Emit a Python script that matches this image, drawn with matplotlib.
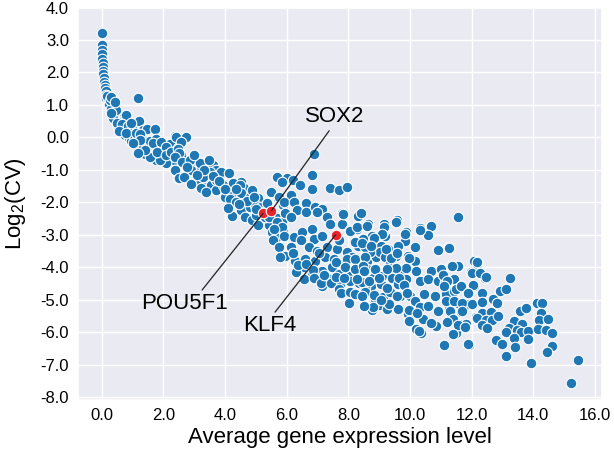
import numpy as np
import matplotlib
matplotlib.use('Agg')
import matplotlib.pyplot as plt
import seaborn as sns

# average expression (x) and log2 CV (y)
expr = [
    0.00, 0.02, 0.02, 0.01, 0.02, 0.03, 0.03, 0.04, 0.05, 0.06, 0.08, 0.10, 0.11, 0.13, 0.14, 0.15,
    0.20, 0.18, 0.26, 0.22, 0.34, 0.30, 0.39, 0.47, 0.56, 0.69, 0.80, 1.17, 1.20, 0.53, 0.63, 0.74,
    0.90, 1.01, 1.33, 1.46, 1.71, 0.88, 1.12, 1.17, 1.33, 1.49, 1.66, 1.92, 1.82, 2.09, 2.39, 2.54,
    2.73, 2.46, 2.19, 2.35, 2.52, 2.84, 3.16, 3.43, 1.60, 1.76, 1.39, 0.96, 0.60, 0.45, 0.40, 0.72,
    1.05, 0.35, 0.50, 0.65, 0.85, 0.95, 0.55, 0.80, 1.10, 1.30, 1.55, 1.75, 2.00, 2.20, 1.25, 0.45,
    0.30, 0.25, 0.30, 0.42,
    2.58, 2.47, 2.31, 2.58, 3.06, 3.49, 3.60, 3.17, 2.90, 2.69, 2.47, 2.37, 2.08, 1.88, 2.10, 1.77,
    1.56, 1.40, 1.18, 1.24, 1.02, 3.39, 3.71, 3.90, 4.09, 4.25, 4.52, 3.06, 3.28, 3.71, 4.03, 4.46,
    4.84, 4.62, 4.20,
    1.65, 1.92, 2.41, 2.72, 2.58, 1.78, 2.09, 2.07, 2.25, 2.47, 2.52, 2.39, 2.61, 2.85, 2.90, 3.17,
    3.48, 3.50, 3.88, 4.13, 2.36, 2.50, 2.68, 3.07, 3.28, 2.90, 3.23, 3.55, 3.72, 3.39, 3.72, 3.99,
    3.93, 4.26, 4.48, 4.24, 4.53, 4.15, 4.37, 4.21, 4.10, 4.53, 4.64, 4.80, 4.86, 4.80, 5.08, 4.97,
    5.18, 5.46, 5.13, 4.86, 5.08, 5.41, 5.35, 5.73, 5.67, 5.84, 6.00, 5.89, 5.67, 5.84, 5.51, 5.67,
    5.89, 5.95, 3.30, 3.60, 3.80, 4.00, 4.35, 4.70, 4.45, 5.00, 5.30, 3.10, 2.75, 3.00,
    6.90, 5.70, 5.86, 6.21, 6.43, 6.82, 6.82, 7.41, 7.68, 7.95, 4.95, 5.49, 5.00, 5.76, 6.13, 5.91,
    6.24, 6.34, 6.61, 6.61, 6.93, 7.14, 6.98, 7.30, 7.41, 7.78, 7.78, 8.05, 8.27, 8.59, 8.91, 9.18,
    8.59, 8.32, 9.07, 5.43, 5.70, 5.86, 6.13, 5.60, 5.92, 6.24, 6.50, 6.82, 6.88, 7.14, 5.54, 5.75,
    6.13, 6.45, 6.72, 6.98, 7.30, 7.63, 7.95, 7.68, 5.93, 6.26, 6.58, 6.93, 7.25, 7.52, 7.46, 7.84,
    8.27, 8.59, 8.91, 6.56, 6.82, 6.29, 7.14, 7.68, 8.05, 8.27, 8.59, 8.96, 9.23, 7.14, 7.41, 7.73,
    8.05, 8.37, 8.75, 9.07, 6.56,
    6.37, 6.64, 6.85, 6.90, 7.12, 7.22, 7.44, 7.70, 7.60, 7.86, 8.02, 8.23, 8.34, 8.55, 8.87, 8.82,
    8.77, 9.03, 9.24, 8.60, 8.13, 6.21, 5.79, 7.06, 7.60, 7.76,
    7.82, 8.32, 8.40, 8.65, 8.05, 8.27, 9.16, 9.13, 9.58, 10.34, 10.67, 10.58, 9.88, 11.55, 8.78,
    8.48, 8.22, 9.83, 10.16, 10.92, 11.28, 9.61, 9.29, 9.02, 8.70, 8.54, 9.18, 9.56, 9.94, 10.16,
    7.95, 8.22, 8.54, 7.90, 8.22, 8.48, 8.91, 9.34, 9.50, 9.77, 10.20, 10.69, 11.01, 11.33, 11.55,
    11.97, 12.08, 8.43, 8.81, 9.08, 9.40, 9.61, 9.88, 10.31, 10.58, 10.90, 11.12, 11.44, 11.66,
    11.87, 12.08, 8.05, 8.22, 8.54, 8.86, 9.13, 9.34, 9.67, 9.99, 10.16, 10.47, 10.80, 11.17, 11.44,
    11.87, 11.55, 8.81, 9.24, 9.61, 9.94, 10.31, 10.58, 10.90, 11.28, 11.66, 9.99, 10.42, 10.85,
    11.23, 11.60, 11.82, 10.20, 10.36, 11.50, 12.13,
    8.61, 9.15, 9.56, 9.84, 9.10, 8.83, 8.45, 8.72, 9.21, 9.37, 9.59, 9.97, 9.86, 9.53, 9.26, 8.88,
    8.50, 8.29, 8.67, 9.00, 9.26, 9.64, 9.80, 9.59, 9.91, 9.32, 8.83, 8.45, 8.50, 9.05, 9.97, 10.24,
    9.97, 10.29, 11.10, 11.92, 10.67, 10.33, 10.91, 11.27, 12.17, 12.24, 12.44,
    12.18, 11.35, 12.02, 12.26, 12.45, 13.24, 11.07, 11.21, 11.10, 11.48, 11.64, 12.05, 11.89,
    12.32, 12.93, 13.10, 12.70, 12.83, 11.16, 11.43, 11.70, 12.02, 12.32, 11.68, 11.30, 12.35,
    12.62, 12.18, 12.45, 12.67, 12.86, 11.38, 11.21, 11.57, 11.79, 12.32, 12.50, 11.40, 13.57,
    13.78, 13.37, 13.62, 13.21, 13.46, 13.10, 13.59, 13.84, 13.37, 13.84, 12.78, 13.00, 11.89,
    13.40, 13.10, 13.94, 14.11, 14.27, 14.24, 14.18, 14.49, 14.15, 14.40, 14.61, 14.61, 14.45,
    15.46, 15.22,
]
log2cv = [
    3.23, 2.84, 2.70, 2.58, 2.42, 2.30, 2.18, 2.04, 1.95, 1.84, 1.72, 1.63, 1.52, 1.42, 1.32, 1.22,
    1.10, 1.28, 0.96, 1.02, 0.80, 0.88, 1.16, 0.65, 0.50, 0.60, 0.70, 1.20, 0.50, 0.34, 0.24, 0.08,
    0.19, 0.24, 0.24, 0.27, 0.26, -0.02, -0.18, -0.40, -0.33, -0.28, -0.23, -0.18, -0.43, -0.57, 0.03, -0.09,
    -0.02, -0.38, -0.43, -0.69, -0.59, -0.69, -0.79, -0.69, -0.59, -0.69, -0.52, -0.10, 0.40, 0.55, 0.70, 0.35,
    0.05, 0.60, 0.45, 0.40, 0.35, 0.45, 0.20, 0.15, 0.15, -0.05, -0.10, -0.05, -0.35, -0.20, 0.10, 0.85,
    0.75, 1.15, 1.25, 1.10,
    -0.13, -0.33, -0.49, -0.54, -0.79, -0.69, -0.85, -1.00, -1.00, -1.20, -1.26, -1.00, -0.79, -0.69, -0.49, -0.44,
    -0.59, -0.38, -0.49, -0.08, -0.18, -1.10, -1.00, -1.08, -1.10, -1.41, -1.36, -1.36, -1.51, -1.62, -1.51, -1.72,
    -1.72, -1.56, -1.82,
    -0.18, -0.15, 0.02, 0.00, -0.15, -0.44, -0.29, -0.54, -0.44, -0.34, -0.47, -0.59, -0.75, -0.70, -1.00, -0.80,
    -0.70, -1.05, -1.05, -1.10, -1.00, -1.26, -1.21, -1.36, -1.21, -1.43, -1.57, -1.46, -1.62, -1.67, -1.31, -1.82,
    -1.46, -1.41, -1.46, -1.72, -1.72, -1.90, -1.98, -2.42, -2.18, -2.23, -2.44, -1.82, -1.62, -2.13, -1.87, -2.08,
    -2.13, -1.67, -2.28, -2.54, -2.69, -2.69, -2.03, -1.87, -1.21, -1.34, -1.26, -2.08, -2.49, -2.59, -2.90, -3.05,
    -2.85, -2.33, -1.00, -1.20, -1.35, -1.60, -1.60, -1.95, -2.05, -2.40, -2.45, -1.15, -0.90, -0.55,
    -0.50, -1.21, -1.36, -1.31, -1.47, -1.16, -1.60, -1.57, -1.62, -1.52, -1.83, -1.67, -2.19, -1.83, -1.78, -1.98,
    -1.98, -2.24, -2.03, -2.29, -2.14, -2.19, -2.29, -2.45, -2.65, -2.34, -2.65, -2.86, -2.81, -2.71, -3.07, -3.02,
    -3.17, -3.33, -3.33, -2.45, -2.60, -2.76, -2.45, -2.81, -3.02, -3.07, -2.91, -2.81, -3.12, -3.02, -3.17, -3.38,
    -3.38, -3.17, -3.38, -3.48, -3.38, -3.43, -3.53, -3.17, -3.64, -3.79, -3.74, -3.79, -3.69, -3.74, -4.00, -3.90,
    -3.84, -3.79, -3.69, -4.00, -4.15, -4.15, -4.10, -4.21, -4.26, -4.15, -4.05, -4.31, -4.15, -4.57, -4.36, -4.57,
    -4.41, -4.46, -4.57, -4.52, -4.36,
    -3.93, -3.88, -4.08, -4.34, -4.49, -4.24, -4.49, -4.65, -4.29, -4.34, -5.11, -4.80, -4.49, -4.60, -4.08, -5.01,
    -5.32, -5.16, -5.06, -3.57, -3.67, -3.57, -3.67, -3.57, -3.82, -4.80,
    -2.36, -2.41, -2.33, -2.67, -2.87, -2.77, -2.67, -2.92, -2.54, -2.79, -2.72, -3.00, -2.92, -2.45, -3.03,
    -3.13, -3.23, -3.18, -3.38, -3.44, -3.36, -3.33, -3.44, -3.54, -3.54, -3.38, -3.69, -3.64, -3.64, -3.79,
    -3.74, -3.74, -3.69, -4.00, -4.05, -3.95, -4.05, -3.90, -4.05, -4.10, -4.10, -4.10, -4.05, -3.97, -3.95,
    -4.15, -3.79, -4.46, -4.31, -4.26, -4.31, -4.51, -4.36, -4.41, -4.36, -4.41, -4.46, -4.36, -4.56,
    -4.77, -4.56, -4.77, -4.82, -4.77, -4.97, -4.92, -4.77, -4.87, -4.87, -5.03, -4.82, -4.87, -4.82, -4.72,
    -5.13, -5.08, -5.23, -5.28, -5.28, -5.44, -5.23, -5.18, -5.33, -5.28, -5.38, -5.69, -5.59, -5.79,
    -5.64, -5.74, -5.74, -5.90, -6.02, -6.02, -5.54,
    -2.72, -2.75, -2.60, -2.98, -2.98, -3.08, -3.24, -3.34, -3.44, -3.70, -3.55, -3.70, -4.01, -4.01, -4.06, -4.06,
    -4.11, -4.37, -4.42, -4.32, -4.63, -4.32, -4.53, -4.89, -4.78, -5.14, -4.84, -4.89, -5.20, -4.99, -5.30, -5.40,
    -5.66, -5.97, -6.40, -6.40, -5.71, -2.86, -3.47, -3.41, -3.88, -4.16, -4.34,
    -3.82, -3.95, -4.16, -4.16, -4.29, -4.31, -4.24, -4.41, -4.57, -4.67, -4.57, -4.55, -4.78,
    -4.78, -4.73, -4.67, -4.98, -5.09, -5.04, -5.04, -5.09, -5.14, -5.07, -5.35, -5.35, -5.40,
    -5.38, -5.55, -5.61, -5.61, -5.48, -5.59, -5.69, -5.76, -5.83, -5.76, -5.87, -6.04, -5.35,
    -5.24, -5.66, -5.73, -5.87, -5.92, -6.00, -6.00, -5.95, -6.18, -6.21, -6.23, -6.35, -6.36,
    -6.46, -6.73, -6.93, -5.09, -5.11, -5.40, -5.61, -5.59, -5.90, -5.94, -6.02, -6.41, -6.59,
    -6.85, -7.55,
]

# highlighted pluripotency genes
genes = ['POU5F1', 'SOX2', 'KLF4']
gene_expr = [5.23, 5.50, 7.59]
gene_cv = [-2.34, -2.26, -2.99]
label_pos = [(2.69, -5.12), (7.55, 0.63), (5.45, -5.80)]
line_rel = [(0.67, 1.0), (0.45, 0.0), (0.55, 1.0)]

sns.set_theme(style='darkgrid')
plt.rcParams['font.family'] = ['Liberation Sans', 'DejaVu Sans']
plt.rcParams['mathtext.default'] = 'regular'

fig = plt.figure(figsize=(6.14, 4.57), dpi=100)
ax = fig.add_axes([78 / 614, 1 - 400 / 457, 524 / 614, 392.5 / 457])

ax.scatter(expr, log2cv, s=58, color='#1f77b4', edgecolor='white', linewidth=0.8, zorder=2)
ax.scatter(gene_expr, gene_cv, s=58, color='#e8232a', edgecolor='white', linewidth=0.8, zorder=4)

for name, gx, gy, pos, rel in zip(genes, gene_expr, gene_cv, label_pos, line_rel):
    ax.annotate(name, xy=(gx, gy), xytext=pos, ha='center', va='center',
                fontsize=16, color='black', zorder=5,
                arrowprops=dict(arrowstyle='-', color='#222222', lw=0.9,
                                shrinkA=0, shrinkB=0, relpos=rel))

ax.set_xlim(-0.773, 16.23)
ax.set_ylim(-8.08, 4.0)
ax.set_xticks(np.arange(0, 17, 2))
ax.set_xticklabels([f'{v:.1f}' for v in np.arange(0, 17, 2)])
ax.set_yticks(np.arange(-8, 5, 1))
ax.set_yticklabels([f'{v:.1f}' for v in np.arange(-8, 5, 1)])
ax.tick_params(axis='x', length=0, labelsize=12, labelcolor='black', pad=5.5)
ax.tick_params(axis='y', length=0, labelsize=12, labelcolor='black', pad=6.5)

ax.set_xlabel('Average gene expression level', fontsize=16, color='black', labelpad=3)
ax.set_ylabel('Log$_2$(CV)', fontsize=16, color='black', labelpad=9)

fig.savefig('out.png', dpi=100)
